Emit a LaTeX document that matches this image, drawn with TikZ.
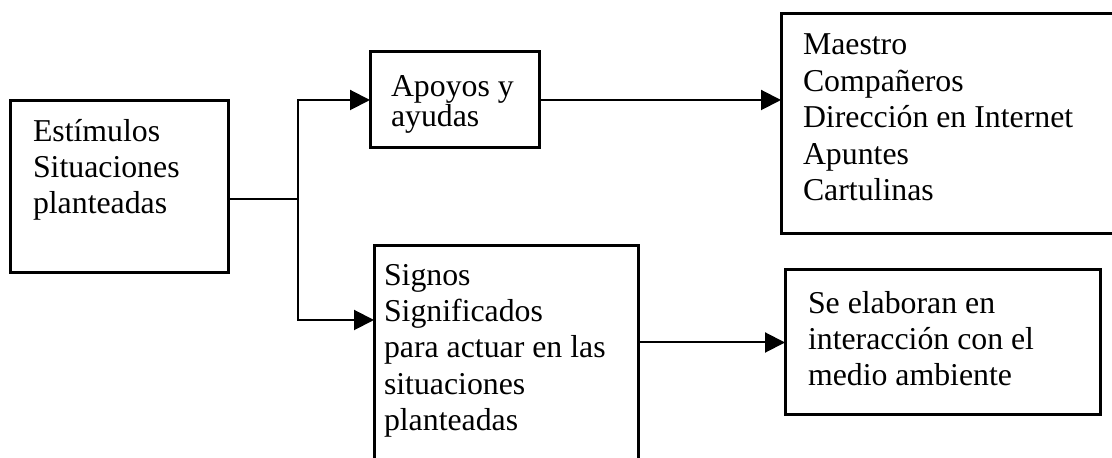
\documentclass[tikz,border=0pt]{standalone}
\usepackage{fontspec}
\setmainfont{Liberation Serif}
\usetikzlibrary{arrows.meta}

\tikzset{
	box/.style={draw, line width=1.5pt, anchor=north west, inner sep=0pt, outer sep=0pt},
	words/.style={anchor=north west, align=left, inner sep=0pt, font=\fontsize{15.9}{18.2}\selectfont},
}

\begin{document}
\begin{tikzpicture}[x=0.5pt, y=-0.5pt, line width=1pt, >={Triangle[length=10pt,width=10pt]}]
	\useasboundingbox (0,0) rectangle (1112,458);
	\node[box, minimum width=109pt, minimum height=86pt] (1) at (10,101) {};
	\node[box, minimum width=84.5pt, minimum height=48pt] (2) at (370,52) {};
	\node[box, minimum width=167.5pt, minimum height=110pt] (3) at (781,14) {};
	\node[box, minimum width=132pt, minimum height=108pt] (4) at (374,246) {};
	\node[box, minimum width=157.5pt, minimum height=72.5pt] (5) at (785,270) {};
	%
	\node[words] (t1) at (32,118) {Estímulos\\Situaciones\\planteadas};
	\node[words, font=\fontsize{15.9}{15}\selectfont] (t2) at (390,75) {Apoyos y\\ayudas};
	\node[words] (t3) at (802,33) {Maestro\\Compañeros\\Dirección en Internet\\Apuntes\\Cartulinas};
	\node[words] (t4) at (383,263) {Signos\\Significados\\para actuar en las\\situaciones\\planteadas};
	\node[words] (t5) at (807,290) {Se elaboran en\\interacción con el\\medio ambiente};
	%
	\coordinate (s) at (298,199);
	\coordinate (l) at (298,320);
	\draw (1.east |- s) -- (s);
	\draw [->] (s) |- (2.west);
	\draw [->] (s) -- (l) -- (l -| 4.west);
	\draw [->] (2.east) -- (2.east -| 3.west);
	\draw [->] (4.east |- 5.west) -- (5.west);
\end{tikzpicture}
\end{document}
